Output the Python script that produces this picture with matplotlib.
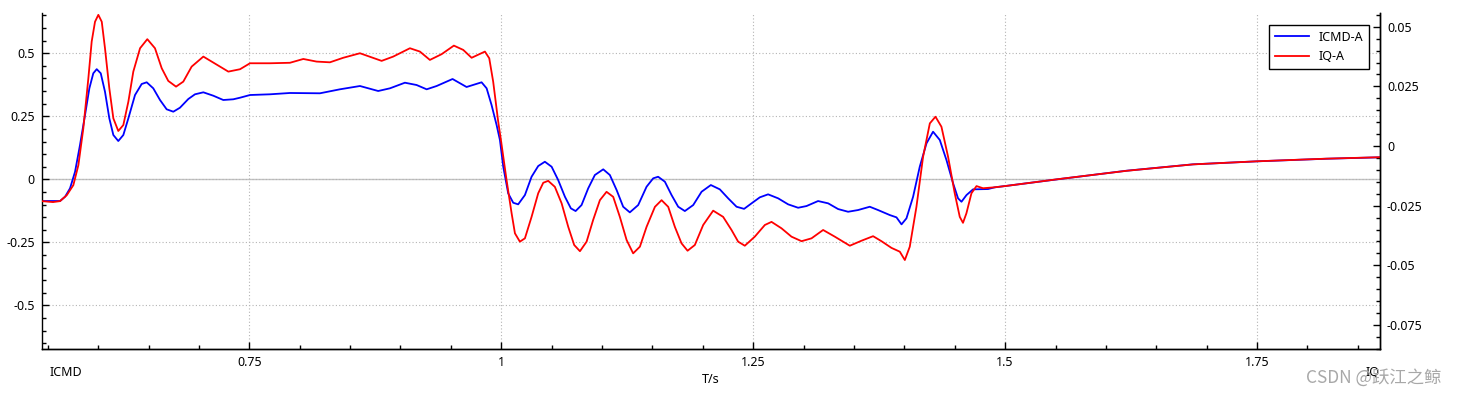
import matplotlib
matplotlib.use('Agg')
import matplotlib.pyplot as plt
from matplotlib.ticker import MultipleLocator, FuncFormatter

plt.rcParams['font.family'] = ['Noto Sans', 'Noto Sans CJK SC', 'DejaVu Sans']

# ICMD-A (axe gauche), temps en s
t_icmd = [0.544, 0.5622, 0.5672, 0.5721, 0.5771, 0.5820, 0.5870, 0.5913, 0.5952, 0.5986,
          0.6026, 0.6068, 0.6111, 0.6151, 0.6200, 0.6250, 0.6300, 0.6366, 0.6432, 0.6482,
          0.6547, 0.6614, 0.6680, 0.6746, 0.6812, 0.6895, 0.6961, 0.7044, 0.7143, 0.7242,
          0.7341, 0.7408, 0.7507, 0.7705, 0.7903, 0.8201, 0.8399, 0.8598, 0.8779, 0.8896,
          0.9044, 0.9160, 0.9260, 0.9359, 0.9517, 0.9656, 0.9805, 0.9855, 0.9904, 0.9954,
          0.9987, 1.0020, 1.0069, 1.0119, 1.0168, 1.0235, 1.0301, 1.0367, 1.0433, 1.0500,
          1.0565, 1.0632, 1.0691, 1.0738, 1.0797, 1.0863, 1.0929, 1.1012, 1.1078, 1.1145,
          1.1210, 1.1276, 1.1359, 1.1442, 1.1508, 1.1557, 1.1624, 1.1690, 1.1756, 1.1822,
          1.1905, 1.1988, 1.2080, 1.2169, 1.2252, 1.2335, 1.2410, 1.2484, 1.2566, 1.2648,
          1.2748, 1.2847, 1.2946, 1.3029, 1.3144, 1.3244, 1.3343, 1.3442, 1.3541, 1.3657,
          1.3739, 1.3856, 1.3922, 1.3972, 1.4021, 1.4087, 1.4153, 1.4220, 1.4285, 1.4352,
          1.4418, 1.4484, 1.4533, 1.4567, 1.4617, 1.4682, 1.4831, 1.4897, 1.4999, 1.5542,
          1.6203, 1.6864, 1.7500, 1.8188, 1.8716]
icmd = [-0.086, -0.086, -0.069, -0.0357, 0.0302, 0.1361, 0.2552, 0.3611, 0.4206, 0.437,
        0.4206, 0.3476, 0.2421, 0.1758, 0.152, 0.1758, 0.2421, 0.3345, 0.3782, 0.3849,
        0.3611, 0.3147, 0.2778, 0.2683, 0.2841, 0.3187, 0.3373, 0.3452, 0.3317, 0.3147,
        0.3175, 0.3238, 0.3345, 0.3373, 0.3425, 0.3413, 0.3571, 0.3702, 0.3504, 0.3611,
        0.3833, 0.3742, 0.3571, 0.3702, 0.398, 0.3663, 0.3849, 0.3611, 0.2948, 0.2155,
        0.156, 0.05, -0.0556, -0.0929, -0.0992, -0.0623, 0.0103, 0.0528, 0.0698, 0.05,
        -0.0028, -0.069, -0.1151, -0.1258, -0.102, -0.0357, 0.0171, 0.0397, 0.0171, -0.0425,
        -0.1087, -0.131, -0.102, -0.0294, 0.004, 0.0103, -0.0095, -0.0623, -0.1087, -0.1258,
        -0.102, -0.0492, -0.0226, -0.0397, -0.0754, -0.1087, -0.1171, -0.0952, -0.0714, -0.0595,
        -0.0754, -0.0992, -0.1127, -0.106, -0.0861, -0.0952, -0.1179, -0.1286, -0.1218, -0.1087,
        -0.1218, -0.1417, -0.1508, -0.1786, -0.1548, -0.069, 0.05, 0.1429, 0.1889, 0.156,
        0.0766, -0.0159, -0.0754, -0.0889, -0.0623, -0.0397, -0.0385, -0.0317, -0.0266, 0.0012,
        0.0341, 0.0595, 0.0714, 0.0817, 0.0873]

# IQ-A (axe droit)
t_iq = [0.544, 0.5552, 0.5622, 0.5689, 0.5754, 0.5804, 0.5853, 0.5903, 0.5936, 0.5969,
        0.6002, 0.6036, 0.6068, 0.6111, 0.6151, 0.6200, 0.6250, 0.6300, 0.6349, 0.6416,
        0.6488, 0.6564, 0.6631, 0.6696, 0.6773, 0.6845, 0.6928, 0.7044, 0.7127, 0.7209,
        0.7292, 0.7408, 0.7507, 0.7705, 0.7903, 0.8036, 0.8168, 0.8300, 0.8432, 0.8598,
        0.8813, 0.8928, 0.9094, 0.9193, 0.9292, 0.9408, 0.9530, 0.9623, 0.9706, 0.9838,
        0.9881, 0.9920, 0.9970, 0.9997, 1.0053, 1.0103, 1.0136, 1.0185, 1.0235, 1.0301,
        1.0367, 1.0417, 1.0466, 1.0532, 1.0599, 1.0665, 1.0724, 1.0781, 1.0847, 1.0912,
        1.0979, 1.1045, 1.1111, 1.1177, 1.1244, 1.1309, 1.1376, 1.1442, 1.1525, 1.1591,
        1.1657, 1.1723, 1.1789, 1.1849, 1.1921, 1.2004, 1.2103, 1.2202, 1.2285, 1.2351,
        1.2417, 1.2516, 1.2616, 1.2682, 1.2781, 1.2880, 1.2980, 1.3079, 1.3194, 1.3310,
        1.3459, 1.3575, 1.3690, 1.3773, 1.3872, 1.3955, 1.4005, 1.4054, 1.4120, 1.4186,
        1.4253, 1.4309, 1.4368, 1.4434, 1.4500, 1.4550, 1.4582, 1.4616, 1.4666, 1.4716,
        1.4781, 1.4897, 1.4999, 1.5542, 1.6203, 1.6864, 1.7500, 1.8188, 1.8716]
iq = [-0.0231, -0.0235, -0.0231, -0.0206, -0.0164, -0.0080, 0.0074, 0.0284, 0.0438, 0.0521,
      0.0550, 0.0521, 0.0410, 0.0242, 0.0116, 0.0063, 0.0088, 0.0186, 0.0312, 0.0410,
      0.0448, 0.0410, 0.0326, 0.0273, 0.0249, 0.0270, 0.0333, 0.0375, 0.0354, 0.0333,
      0.0312, 0.0322, 0.0347, 0.0347, 0.0349, 0.0365, 0.0354, 0.0351, 0.0370, 0.0389,
      0.0357, 0.0375, 0.0410, 0.0396, 0.0361, 0.0385, 0.0421, 0.0403, 0.0370, 0.0396,
      0.0368, 0.0270, 0.0102, 0.0025, -0.0143, -0.0282, -0.0366, -0.0401, -0.0387, -0.0297,
      -0.0198, -0.0154, -0.0146, -0.0171, -0.0240, -0.0339, -0.0415, -0.0441, -0.0401, -0.0310,
      -0.0227, -0.0192, -0.0213, -0.0297, -0.0394, -0.0450, -0.0422, -0.0339, -0.0255, -0.0227,
      -0.0255, -0.0339, -0.0408, -0.0439, -0.0415, -0.0331, -0.0271, -0.0297, -0.0352, -0.0401,
      -0.0418, -0.0380, -0.0331, -0.0318, -0.0345, -0.0380, -0.0399, -0.0387, -0.0352, -0.0380,
      -0.0418, -0.0397, -0.0378, -0.0399, -0.0427, -0.0443, -0.0478, -0.0422, -0.0255, -0.0045,
      0.0095, 0.0123, 0.0081, -0.0045, -0.0198, -0.0297, -0.0322, -0.0282, -0.0198, -0.0168,
      -0.0177, -0.0173, -0.0168, -0.0138, -0.0104, -0.0077, -0.0064, -0.0053, -0.0047]

fmt = FuncFormatter(lambda v, p: '%g' % (round(v, 4) + 0.0))

fig = plt.figure(figsize=(14.57, 3.97), dpi=100)
ax = fig.add_axes([0.02862, 0.12091, 0.91853, 0.84710])
ax2 = ax.twinx()

l1, = ax.plot(t_icmd, icmd, color='#0000ff', lw=1.3)
l2, = ax2.plot(t_iq, iq, color='#ff0000', lw=1.3)

ax.set_xlim(0.544, 1.872)
ax.set_ylim(-0.673, 0.661)
ax2.set_ylim(-0.0851, 0.0559)

# grille pointillée + ligne zéro
ax.grid(which='major', ls=(0, (1, 2)), color='#b4b4b4', lw=0.8)
ax.axhline(0, color='#c4c4c4', lw=1.0, zorder=1)

ax.xaxis.set_major_locator(MultipleLocator(0.25))
ax.xaxis.set_minor_locator(MultipleLocator(0.05))
ax.yaxis.set_major_locator(MultipleLocator(0.25))
ax.yaxis.set_minor_locator(MultipleLocator(0.05))
ax2.yaxis.set_major_locator(MultipleLocator(0.025))
ax2.yaxis.set_minor_locator(MultipleLocator(0.005))
ax.xaxis.set_major_formatter(fmt)
ax.yaxis.set_major_formatter(fmt)
ax2.yaxis.set_major_formatter(fmt)

for a in (ax, ax2):
    a.tick_params(which='both', direction='in', labelsize=9, colors='black', pad=5)
    a.tick_params(which='major', length=5, width=1)
    a.tick_params(which='minor', length=3, width=1)
    a.spines['top'].set_visible(False)
    for s in a.spines.values():
        s.set_linewidth(1.0)
ax.tick_params(axis='x', top=False)
ax2.spines['left'].set_visible(False)

ax.set_xlabel('T/s', fontsize=9)
ax.xaxis.label.set_va('center')
ax.xaxis.set_label_coords(0.5, -0.092)

fig.text(0.0343, 0.0617, 'ICMD', ha='left', va='center', fontsize=9)
fig.text(0.9375, 0.0617, 'IQ', ha='left', va='center', fontsize=9)

ax2.legend([l1, l2], ['ICMD-A', 'IQ-A'], loc='upper right', bbox_to_anchor=(0.9918, 0.9634),
           borderaxespad=0, fancybox=False, edgecolor='black', framealpha=1, fontsize=9,
           handlelength=2.7, borderpad=0.45, labelspacing=0.5)

fig.text(0.9895, 0.048, 'CSDN @跃江之鲸', ha='right', va='center', fontsize=12.5,
         color='#a8a8a8', family=['Noto Sans CJK SC', 'DejaVu Sans'])

fig.savefig('out.png', dpi=100)
